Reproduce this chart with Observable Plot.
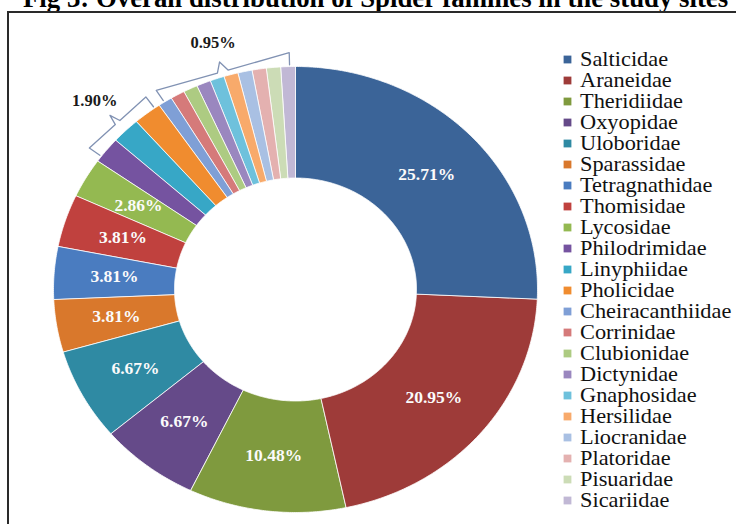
<!DOCTYPE html>
<html>
<head>
<meta charset="utf-8">
<script src="https://cdn.jsdelivr.net/npm/d3@7"></script>
<script src="https://cdn.jsdelivr.net/npm/@observablehq/plot@0.6"></script>
<style>
  html, body { margin: 0; padding: 0; background: #fff; }
  #wrap { position: relative; width: 736px; height: 524px; overflow: hidden; background: #fff; }
  #title { position: absolute; left: 23px; top: -15px; white-space: nowrap;
           font: bold 26.8px "Liberation Serif", "Times New Roman", serif; line-height: 26px; color: #000; }
  #frame { position: absolute; left: 7px; top: 11px; width: 800px; height: 600px;
           border: 2px solid #2a2a2a; z-index: 3; pointer-events: none; }
  .layer { position: absolute; left: 0; top: 0; }
  #legend g[aria-label="text"] { transform: scale(1.09, 1); transform-origin: 580px 0; }
</style>
</head>
<body>
<div id="wrap">
  <div id="title">Fig 3: Overall distribution of Spider families in the study sites</div>
  <div id="pie" class="layer"></div>
  <div id="legend" class="layer"></div>
  <div id="frame"></div>
</div>
<script>
// ---- data ----
const families = [
  "Salticidae", "Araneidae", "Theridiidae", "Oxyopidae", "Uloboridae", "Sparassidae",
  "Tetragnathidae", "Thomisidae", "Lycosidae", "Philodrimidae", "Linyphiidae", "Pholicidae",
  "Cheiracanthiidae", "Corrinidae", "Clubionidae", "Dictynidae", "Gnaphosidae", "Hersilidae",
  "Liocranidae", "Platoridae", "Pisuaridae", "Sicariidae"
];
const percents = [
  25.71, 20.95, 10.48, 6.67, 6.67, 3.81,
  3.81, 3.81, 2.86, 1.90, 1.90, 1.90,
  0.95, 0.95, 0.95, 0.95, 0.95, 0.95,
  0.95, 0.95, 0.95, 0.95
];
const colors = [
  "#3b6498", "#9e3b39", "#7f9a3e", "#654a89", "#2f8aa3", "#d9782c",
  "#4a7cc0", "#c0413e", "#94b951", "#7553a0", "#37a7c6", "#f08c2f",
  "#7f9fd6", "#d57a7a", "#adcb82", "#9a87bf", "#6ec1dc", "#f8aa6b",
  "#a9c0e3", "#e4b1b0", "#ccdcb6", "#c1b8d5"
];
// number of slices labelled inside the ring
const insideLabelCount = 9;
// bracketed groups of small slices (first and last family index, label)
const groupLabels = ["1.90%", "0.95%"];
const groupFrom = [9, 12];
const groupTo = [11, 21];

// ---- geometry derived from the values ----
const total = d3.sum(percents);
let acc = 0;
const slices = families.map((family, i) => {
  const a0 = acc / total * 2 * Math.PI;
  acc += percents[i];
  const a1 = acc / total * 2 * Math.PI;
  return {family, value: percents[i], a0, a1, i};
});
const polar = (a, r) => ({x: r * Math.sin(a), y: r * Math.cos(a)});
const R0 = 0.5, R1 = 1;

const ringPts = slices.flatMap(s => {
  const n = Math.max(2, Math.ceil((s.a1 - s.a0) / (Math.PI / 360)));
  const pts = [];
  for (let k = 0; k <= n; k++) pts.push({family: s.family, ...polar(s.a0 + (s.a1 - s.a0) * k / n, R1)});
  for (let k = n; k >= 0; k--) pts.push({family: s.family, ...polar(s.a0 + (s.a1 - s.a0) * k / n, R0)});
  return pts;
});

const inside = slices.filter(s => s.i < insideLabelCount).map(s => ({
  ...polar((s.a0 + s.a1) / 2, 0.75), text: s.value.toFixed(2) + "%"
}));

const inset = 1.4 * Math.PI / 180;
const bracketPts = [];
const bracketText = [];
groupLabels.forEach((label, g) => {
  const a0 = slices[groupFrom[g]].a0 + inset;
  const a1 = slices[groupTo[g]].a1 - inset;
  const rc = 1.062;
  const c0 = polar(a0, rc), c1 = polar(a1, rc);
  const am = (a0 + a1) / 2;
  const midR = rc * Math.cos((a1 - a0) / 2);
  const lerp = t => ({x: c0.x + (c1.x - c0.x) * t, y: c0.y + (c1.y - c0.y) * t});
  const seq = [polar(a0, 1.008), c0, lerp(0.46), polar(am, midR + 0.045), lerp(0.54), c1, polar(a1, 1.008)];
  seq.forEach(p => bracketPts.push({g: label, ...p}));
  bracketText.push({text: label, ...polar(am, midR + 0.135)});
});

const colorScale = {domain: families, range: colors};

const pie = Plot.plot({
  width: 736, height: 524, margin: 0,
  style: {background: "transparent", overflow: "visible"},
  x: {domain: [-1, 1], range: [53, 537], axis: null},
  y: {domain: [-1, 1], range: [512, 66], axis: null},
  color: colorScale,
  marks: [
    Plot.line(ringPts, {x: "x", y: "y", z: "family", fill: "family", stroke: "#ffffff",
      strokeWidth: 0.8, curve: "linear-closed"}),
    Plot.text(inside, {x: "x", y: "y", text: "text", fill: "#fbfbfb", fontWeight: "bold",
      fontSize: 17.5, fontFamily: "Liberation Serif"}),
    Plot.line(bracketPts, {x: "x", y: "y", z: "g", stroke: "#8192b3", strokeWidth: 1.3,
      strokeLinejoin: "round", fill: "none"}),
    Plot.text(bracketText, {x: "x", y: "y", text: "text", fill: "#1a1a1a", fontWeight: "bold",
      fontSize: 16.5, fontFamily: "Liberation Serif"})
  ]
});
document.getElementById("pie").appendChild(pie);

const legend = Plot.plot({
  width: 736, height: 524, margin: 0,
  style: {background: "transparent", overflow: "visible"},
  x: {domain: [0, 1], range: [567, 580], axis: null},
  y: {type: "point", domain: families, range: [58, 500], padding: 0, axis: null},
  color: colorScale,
  marks: [
    Plot.dot(families, {x: () => 0, y: d => d, fill: d => d, symbol: "square", r: 4.4}),
    Plot.text(families, {x: () => 1, y: d => d, text: d => d, textAnchor: "start", dy: 1,
      fill: "#111", fontSize: 20.5, fontFamily: "Liberation Serif"})
  ]
});
document.getElementById("legend").appendChild(legend);
</script>
</body>
</html>
